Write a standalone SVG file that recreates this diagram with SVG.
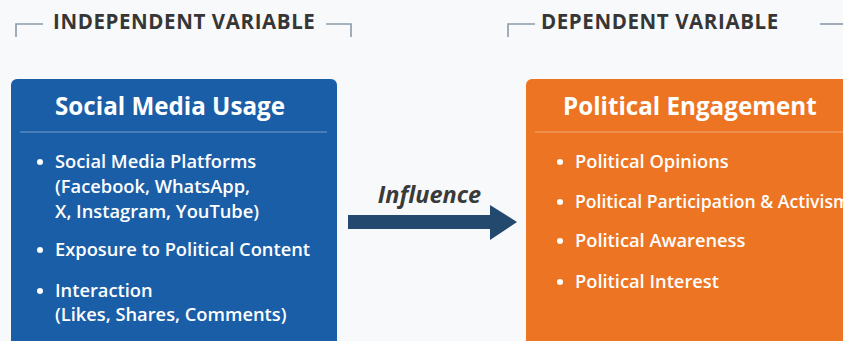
<svg xmlns="http://www.w3.org/2000/svg" width="843" height="341" viewBox="0 0 843 341">
  <style>
    .hdr { font-family: "Open Sans", "Liberation Sans", sans-serif; font-weight: 700; font-size: 20.5px; fill: #363636; letter-spacing: 0.6px; }
    .bracket { fill: none; stroke: #8a9aa8; stroke-width: 1.6; }
    .title { font-family: "Open Sans", "Liberation Sans", sans-serif; font-weight: 700; font-size: 24.2px; fill: #ffffff; }
    .item { font-family: "Open Sans", "Liberation Sans", sans-serif; font-weight: 600; font-size: 18.3px; fill: #ffffff; }
    .tight { font-size: 17.6px; }
    .rule { stroke: #ffffff; stroke-opacity: 0.4; stroke-width: 1.2; }
    .dot { fill: #ffffff; }
    .lbl { font-family: "Open Sans", "Liberation Sans", sans-serif; font-weight: 700; font-style: italic; font-size: 23.5px; fill: #3a3a3a; }
  </style>
  <rect width="843" height="341" fill="#f8f9fa"/>

  <!-- headers -->
  <g id="hdr-independent">
    <path class="bracket" d="M16 37 V24 H43"/>
    <text class="hdr" x="53" y="29">INDEPENDENT VARIABLE</text>
    <path class="bracket" d="M326 24 H351 V37"/>
  </g>
  <g id="hdr-dependent">
    <path class="bracket" d="M508 37 V24 H535"/>
    <text class="hdr" x="541" y="29">DEPENDENT VARIABLE</text>
    <path class="bracket" d="M820 24 H843"/>
  </g>

  <!-- independent variable box -->
  <g id="social-media-usage">
    <rect x="11" y="79" width="326" height="280" rx="6" fill="#1a5ea8"/>
    <text class="title" x="170" y="115" text-anchor="middle">Social Media Usage</text>
    <line class="rule" x1="20" y1="132" x2="327" y2="132"/>
    <circle class="dot" cx="40" cy="162" r="3"/>
    <text class="item" x="55" y="168">Social Media Platforms</text>
    <text class="item" x="55" y="193">(Facebook, WhatsApp,</text>
    <text class="item" x="55" y="218">X, Instagram, YouTube)</text>
    <circle class="dot" cx="40" cy="250" r="3"/>
    <text class="item" x="55" y="256">Exposure to Political Content</text>
    <circle class="dot" cx="40" cy="291" r="3"/>
    <text class="item" x="55" y="297">Interaction</text>
    <text class="item" x="55" y="321">(Likes, Shares, Comments)</text>
  </g>

  <!-- dependent variable box -->
  <g id="political-engagement">
    <rect x="526" y="79" width="330" height="280" rx="6" fill="#ec7422"/>
    <text class="title" x="563" y="115">Political Engagement</text>
    <line class="rule" x1="535" y1="132" x2="843" y2="132"/>
    <circle class="dot" cx="560" cy="162" r="3"/>
    <text class="item" x="575" y="168">Political Opinions</text>
    <circle class="dot" cx="560" cy="202" r="3"/>
    <text class="item tight" x="575" y="208">Political Participation &amp; Activism</text>
    <circle class="dot" cx="560" cy="241" r="3"/>
    <text class="item" x="575" y="247">Political Awareness</text>
    <circle class="dot" cx="560" cy="282" r="3"/>
    <text class="item" x="575" y="288">Political Interest</text>
  </g>

  <!-- connector -->
  <g id="connectors">
    <path d="M348 215 H490 V205 L517 222 L490 240 V229 H348 Z" fill="#234a6e"/>
    <text class="lbl" x="429.5" y="203" text-anchor="middle">Influence</text>
  </g>
</svg>
